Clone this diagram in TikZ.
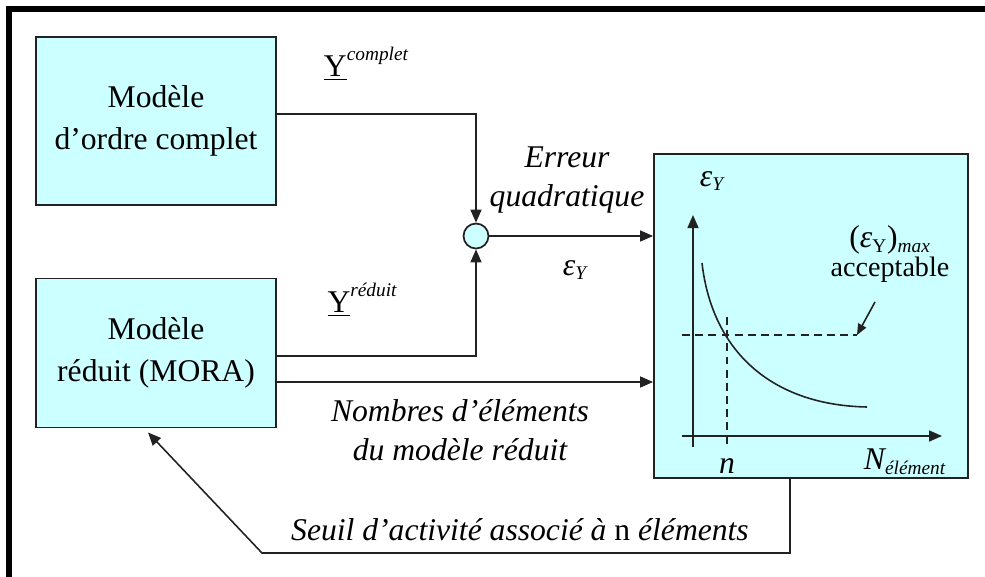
\documentclass[tikz,border=0pt]{standalone}
\usepackage{fontspec}
\setmainfont{Liberation Serif}
\definecolor{mdcyan}{HTML}{CCFFFF}
\definecolor{mdline}{HTML}{222222}
\usetikzlibrary{arrows.meta,positioning,calc}

\begin{document}
\begin{tikzpicture}[x=0.02cm,y=-0.02cm,font=\fontsize{18}{24}\selectfont,
 box/.style={draw=mdline,fill=mdcyan,line width=1.1pt,%
   minimum width=4.8cm,align=center,inner sep=0pt},
 sum/.style={circle,draw=mdline,fill=mdcyan,line width=1pt,minimum size=0.5cm,inner sep=0pt},
 arr/.style={-{Triangle[length=2.6mm,width=2.2mm]},draw=mdline,line width=0.9pt},
 lbl/.style={font=\fontsize{18}{22}\selectfont\itshape,align=center,inner sep=0pt},
 dashline/.style={draw=mdline,line width=0.9pt,dash pattern=on 4.5pt off 3pt}]
\useasboundingbox (0,0) rectangle (985,576);
% cadre
\draw[line width=3pt,line cap=rect] (9,576) -- (9,9) -- (985,9);
% blocs
\node[box,minimum height=3.36cm] (full) at (156,121) {Modèle\\d'ordre complet};
\node[box,minimum height=2.98cm] (reduced) at (156,353) {Modèle\\réduit (MORA)};
\node[box,minimum width=6.28cm,minimum height=6.48cm] (graph) at (811,316) {};
\node[sum] (sum) at (476,236) {};
% liaisons
\draw[arr] ([yshift=0.14cm]full.east) -| (sum.north);
\draw[arr] ([yshift=-0.06cm]reduced.east) -| (sum.south);
\draw[arr] ([yshift=-0.58cm]reduced.east) coordinate (r2) -- (r2 -| graph.west);
\draw[arr] (sum.east) -- (sum.east -| graph.west);
\coordinate (fb) at (262,553);
\draw[arr] ([xshift=-0.42cm]graph.south) |- (fb) -- ([xshift=-0.16cm,yshift=-0.08cm]reduced.south);
% textes
\node (ycomp) at (366,64) {$\underline{\mathrm{Y}}$\raisebox{1.1ex}{\fontsize{11}{11}\selectfont\itshape complet}};
\node (yred) at (362,300) {$\underline{\mathrm{Y}}$\raisebox{1.1ex}{\fontsize{11}{11}\selectfont\itshape réduit}};
\node[lbl] (err) at (567,180) {Erreur\\quadratique};
\node[lbl] (eps) at (575,270) {ε\textsubscript{\fontsize{11}{11}\selectfont Y}};
\node[lbl] (nb) at (460,430) {Nombres d’éléments\\du modèle réduit};
\node[lbl] (seuil) at (520,530) {Seuil d’activité associé à \textup{n} éléments};
% courbe
\draw[arr] (693,447) -- (693,215);
\draw[arr] (682,436) -- (942,436);
\node[lbl] (epsy) at (712,181) {ε\textsubscript{\fontsize{11}{11}\selectfont Y}};
\node[lbl] (nval) at (727,466) {n};
\node[lbl] (nelem) at (905,462) {N\textsubscript{\fontsize{11}{11}\selectfont élément}};
\node (emax) at (890,240) {(\textit{ε}\textsubscript{\fontsize{11}{11}\selectfont Y})\textsubscript{\fontsize{11}{11}\selectfont\itshape max}};
\node (accept) at (890,270) {\fontsize{16}{18}\selectfont acceptable};
\coordinate (lim) at (857,335);
\draw[dashline] (682,335) -- (lim);
\draw[dashline] (727,317) -- (727,447);
\draw[draw=mdline,line width=0.9pt] (702,263) .. controls (712,350) and (770,405) .. (867,407);
\draw[arr,-{Triangle[length=2.2mm,width=1.8mm]}] (875,302) -- (lim);
\end{tikzpicture}
\end{document}
